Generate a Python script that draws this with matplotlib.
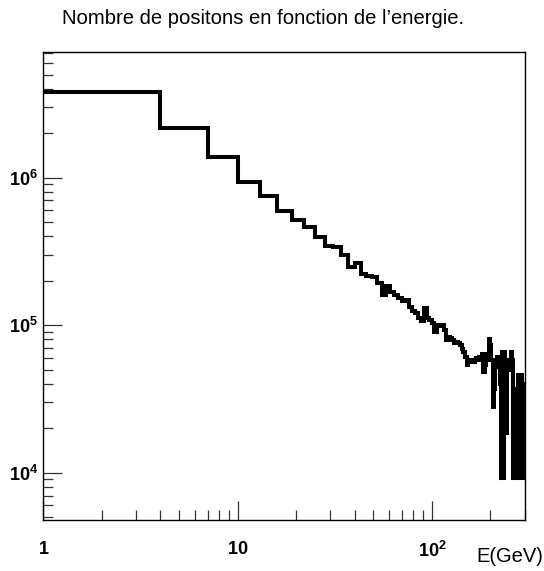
import matplotlib
matplotlib.use('Agg')
import matplotlib.pyplot as plt
from matplotlib.ticker import LogLocator, NullFormatter, FixedLocator
import numpy as np

#histogram binning (like a ROOT TH1F : 100 bins from 1 to 301 GeV)
nbins=100
xmin=1
xmax=301
#number of positons in each bin
counts=[3.80e6,2.16e6,1.375e6,9.4e5,7.5e5,5.94e5,5.18e5,4.61e5,3.98e5,3.44e5,3.37e5,2.99e5,
        2.49e5,2.63e5,2.22e5,2.16e5,2.12e5,1.92e5,1.60e5,1.85e5,1.69e5,1.60e5,1.52e5,1.45e5,
        1.48e5,1.33e5,1.25e5,1.20e5,1.11e5,1.06e5,1.30e5,1.11e5,1.08e5,1.03e5,
        9.0e4,1.0e5,9.8e4,1.0e5,9.3e4,7.95e4,8.3e4,8.2e4,7.95e4,7.6e4,
        7.7e4,7.6e4,7.3e4,6.9e4,6.6e4,6.1e4,5.4e4,5.8e4,5.65e4,5.8e4,
        5.65e4,5.8e4,6.0e4,5.8e4,6.1e4,6.0e4,6.4e4,4.8e4,5.4e4,5.8e4,
        6.4e4,8.0e4,7.3e4,5.8e4,
        2.8e4,3.7e4,5.8e4,5.2e4,6.1e4,5.5e4,4.0e4,9.2e3,6.6e4,9.2e3,
        6.6e4,5.8e4,1.85e4,5.8e4,5.0e4,5.5e4,5.0e4,6.6e4,5.8e4,9.2e3,
        3.7e4,9.2e3,2.8e4,3.7e4,4.6e4,1.85e4,9.2e3,4.6e4,4.0e4,9.2e3,
        4.0e4,1.85e4]
edges=np.linspace(xmin,xmax,nbins+1)

#text labels
title="Nombre de positons en fonction de l\u2019energie."
xlabel="E(GeV)"
xtick_pos=[1,10,100]
xtick_lab=[r'$\mathbf{1}$',r'$\mathbf{10}$',r'$\mathbf{10^{2}}$']
ytick_pos=[1e4,1e5,1e6]
ytick_lab=[r'$\mathbf{10^{4}}$',r'$\mathbf{10^{5}}$',r'$\mathbf{10^{6}}$']

plt.rcParams['font.family']=['Liberation Sans','DejaVu Sans']
plt.rcParams['mathtext.fontset']='custom'
plt.rcParams['mathtext.rm']='Liberation Sans'
plt.rcParams['mathtext.bf']='Liberation Sans:bold'

fig=plt.figure(figsize=(5.44,5.71),dpi=100)
ax=fig.add_axes([0.0796,0.0893,0.965-0.0796,0.9095-0.0893])

#draw the histogram as steps
ax.stairs(counts,edges,color='black',linewidth=2.9,baseline=None)

ax.set_xscale('log')
ax.set_yscale('log')
ax.set_xlim(xmin,xmax)
ax.set_ylim(4780,7.14e6)

#ticks inside, only on left and bottom (ROOT style)
ax.xaxis.set_major_locator(FixedLocator(xtick_pos))
ax.yaxis.set_major_locator(FixedLocator(ytick_pos))
ax.xaxis.set_minor_locator(LogLocator(base=10,subs=np.arange(2,10)))
ax.yaxis.set_minor_locator(LogLocator(base=10,subs=np.arange(2,10)))
ax.xaxis.set_minor_formatter(NullFormatter())
ax.yaxis.set_minor_formatter(NullFormatter())
ax.set_xticklabels(xtick_lab,fontsize=13)
ax.set_yticklabels(ytick_lab,fontsize=13)
ax.tick_params(which='both',direction='in',top=False,right=False,color='#333333')
ax.tick_params(which='major',length=14,width=0.9)
ax.tick_params(which='minor',length=7,width=0.9)
ax.tick_params(axis='x',which='major',pad=15)
ax.tick_params(axis='y',which='major',pad=4)
for s in ax.spines.values():
    s.set_linewidth(1.0)

#title and axis label
fig.text(0.483,0.968,title,ha='center',va='center',fontsize=14.6)
fig.text(0.999,0.026,xlabel,ha='right',va='center',fontsize=14.5)

fig.savefig('out.png',dpi=100)
